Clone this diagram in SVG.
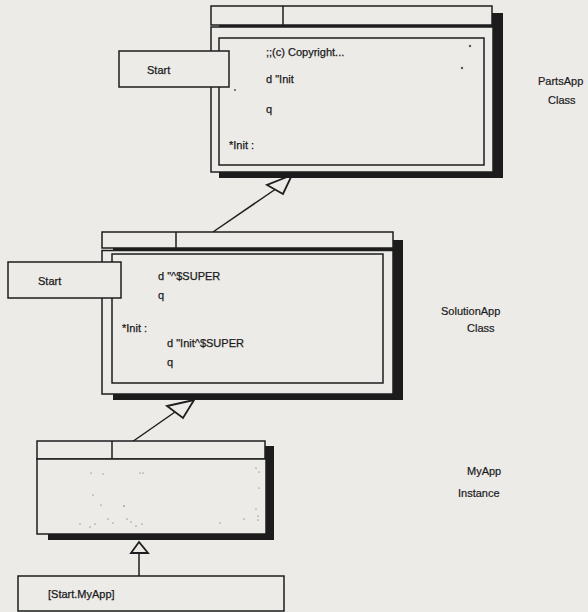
<svg xmlns="http://www.w3.org/2000/svg" width="588" height="612" viewBox="0 0 588 612">
<style>
.bg{fill:#ecebe8}
.win{fill:#ecebe8;stroke:#1e1e1e;stroke-width:1.5}
.shadow{fill:#1c1c1c}
.ln{stroke:#1e1e1e;stroke-width:1.5;fill:none}
.t{font-family:"Liberation Sans",Arial,sans-serif;font-size:11px;fill:#1a1a1a;stroke:#1a1a1a;stroke-width:0.25}
.lbl{font-family:"Liberation Sans",Arial,sans-serif;font-size:11px;fill:#1a1a1a;stroke:#1a1a1a;stroke-width:0.2}
.dot{fill:#555}
.head{fill:#ecebe8;stroke:#1e1e1e;stroke-width:1.8;stroke-linejoin:miter}
</style>
<rect class="bg" x="0" y="0" width="588" height="612"/>

<g id="connectors">
  <line class="ln" x1="213" y1="232" x2="275" y2="189.5"/>
  <polygon class="head" points="292,175 267,185 283,194"/>
  <line class="ln" x1="132" y1="442" x2="175" y2="412"/>
  <polygon class="head" points="194,400 167,406 183,418"/>
  <line class="ln" x1="139" y1="553" x2="139" y2="576"/>
  <polygon class="head" points="139,542 131,553 148,553"/>
</g>

<g id="partsapp">
  <rect class="shadow" x="219" y="13" width="284" height="165"/>
  <rect class="win" x="211" y="6" width="281" height="19"/>
  <line class="ln" x1="283" y1="6" x2="283" y2="25"/>
  <rect class="win" x="211" y="27" width="282" height="145"/>
  <rect class="win" x="219" y="38" width="265" height="127"/>
  <text class="t" x="266" y="56">;;(c) Copyright...</text>
  <text class="t" x="266" y="83">d "Init</text>
  <text class="t" x="266" y="113">q</text>
  <text class="t" x="229" y="149">*Init :</text>
  <circle class="dot" cx="470" cy="46" r="1.2"/>
  <circle class="dot" cx="462" cy="68" r="1.2"/>
  <circle class="dot" cx="235" cy="90" r="1"/>
</g>
<g id="partsapp-start">
  <rect class="win" x="119" y="51" width="110" height="36"/>
  <text class="t" x="147" y="74">Start</text>
</g>
<g id="partsapp-label">
  <text class="lbl" x="538" y="85">PartsApp</text>
  <text class="lbl" x="548" y="104">Class</text>
</g>

<g id="solutionapp">
  <rect class="shadow" x="113" y="240" width="290" height="160"/>
  <rect class="win" x="102" y="232" width="291" height="16"/>
  <line class="ln" x1="176" y1="232" x2="176" y2="248"/>
  <rect class="win" x="102" y="250.5" width="291" height="143.5"/>
  <rect class="win" x="112" y="254" width="271" height="129"/>
  <text class="t" x="158" y="280">d "^$SUPER</text>
  <text class="t" x="158" y="299">q</text>
  <text class="t" x="122" y="332">*Init :</text>
  <text class="t" x="167" y="347">d "Init^$SUPER</text>
  <text class="t" x="167" y="366">q</text>
</g>
<g id="solutionapp-start">
  <rect class="win" x="8" y="262" width="113" height="36"/>
  <text class="t" x="38" y="285">Start</text>
</g>
<g id="solutionapp-label">
  <text class="lbl" x="441" y="315">SolutionApp</text>
  <text class="lbl" x="467" y="332">Class</text>
</g>

<g id="myapp">
  <rect class="shadow" x="48" y="446" width="226" height="94"/>
  <rect class="win" x="37" y="441" width="228" height="18"/>
  <line class="ln" x1="112" y1="441" x2="112" y2="459"/>
  <rect class="win" x="37" y="459" width="229" height="75"/>
  <g class="dot">
    <circle cx="91" cy="473" r="0.6"/><circle cx="103" cy="474" r="0.6"/>
    <circle cx="140" cy="473" r="0.6"/><circle cx="143" cy="473" r="0.6"/>
    <circle cx="93" cy="495" r="0.6"/><circle cx="124" cy="506" r="0.7"/>
    <circle cx="101" cy="505" r="0.6"/><circle cx="80" cy="524" r="0.6"/>
    <circle cx="95" cy="524" r="0.6"/><circle cx="108" cy="519" r="0.6"/>
    <circle cx="113" cy="523" r="0.6"/><circle cx="127" cy="519" r="0.6"/>
    <circle cx="131" cy="522" r="0.6"/><circle cx="136" cy="526" r="0.6"/>
    <circle cx="142" cy="524" r="0.6"/><circle cx="90" cy="527" r="0.6"/>
    <circle cx="220" cy="523" r="0.6"/><circle cx="244" cy="519" r="0.6"/>
    <circle cx="256" cy="509" r="0.6"/><circle cx="258" cy="516" r="0.6"/>
    <circle cx="258" cy="520" r="0.6"/><circle cx="259" cy="488" r="0.6"/>
    <circle cx="256" cy="468" r="0.6"/><circle cx="259" cy="472" r="0.6"/>
  </g>
</g>
<g id="startmyapp">
  <rect class="win" x="18" y="576" width="266" height="35"/>
  <text class="t" x="48" y="598">[Start.MyApp]</text>
</g>
<g id="myapp-label">
  <text class="lbl" x="467" y="475">MyApp</text>
  <text class="lbl" x="458" y="497">Instance</text>
</g>
</svg>
